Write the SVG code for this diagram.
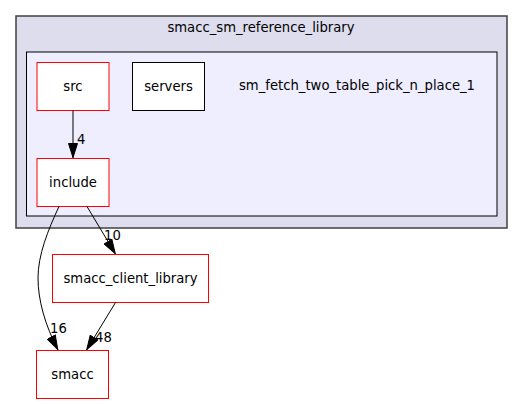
<svg xmlns="http://www.w3.org/2000/svg" width="525" height="404" viewBox="0 0 525 404">
<defs>
<style>
text{font-family:"DejaVu Sans",sans-serif;font-size:13.2px;fill:#000}
.n{fill:#fff;stroke:#ff0000;stroke-width:1}
.b{fill:#fff;stroke:#000;stroke-width:1}
.e{fill:none;stroke:#000;stroke-width:1}
</style>
<marker id="ah" markerWidth="15" markerHeight="10" refX="15" refY="5" orient="auto" markerUnits="userSpaceOnUse">
<path d="M0.5,0.5 L14.5,5 L0.5,9.5 Z" fill="#000" stroke="#000"/>
</marker>
</defs>
<g id="cluster_outer">
<rect x="16" y="16" width="491" height="212" fill="#ddddee" stroke="#404040" stroke-width="1.5"/>
<text x="261" y="32" text-anchor="middle">smacc_sm_reference_library</text>
</g>
<g id="cluster_inner">
<rect x="26.5" y="52" width="470.5" height="164" fill="#eeeeff" stroke="#000" stroke-width="1"/>
<text x="357" y="90" text-anchor="middle">sm_fetch_two_table_pick_n_place_1</text>
</g>
<g id="node_src">
<rect class="n" x="37" y="62.5" width="72" height="48"/>
<text x="73" y="91" text-anchor="middle">src</text>
</g>
<g id="node_servers">
<rect class="b" x="132.5" y="62.5" width="72" height="48"/>
<text x="168.5" y="91" text-anchor="middle">servers</text>
</g>
<g id="node_include">
<rect class="n" x="37" y="158.5" width="72" height="48"/>
<text x="73" y="187" text-anchor="middle">include</text>
</g>
<g id="node_smacc_client_library">
<rect class="n" x="52.5" y="254.5" width="156" height="48"/>
<text x="130.5" y="283" text-anchor="middle">smacc_client_library</text>
</g>
<g id="node_smacc">
<rect class="n" x="36.5" y="350.5" width="72" height="48"/>
<text x="72.5" y="379" text-anchor="middle">smacc</text>
</g>
<g id="edges">
<path class="e" d="M73,110.5 L73,158" marker-end="url(#ah)"/>
<text x="77" y="144">4</text>
<path class="e" d="M87,206.5 L115.5,254" marker-end="url(#ah)"/>
<text x="104" y="240">10</text>
<path class="e" d="M59,206.5 C48,230 38,255 38,278 C38,300 45,325 58,350" marker-end="url(#ah)"/>
<text x="50" y="333">16</text>
<path class="e" d="M115.5,302.5 L86.5,350" marker-end="url(#ah)"/>
<text x="95" y="342">48</text>
</g>
</svg>
